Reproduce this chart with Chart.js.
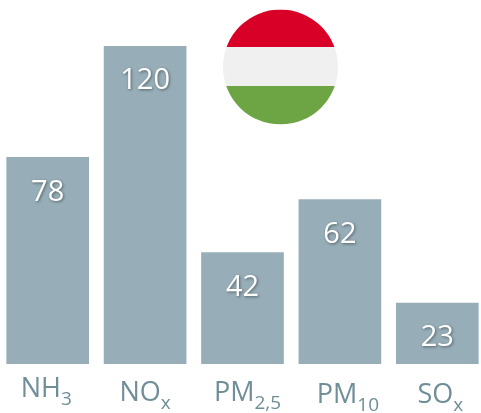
<!DOCTYPE html>
<html>
<head>
<meta charset="utf-8">
<style>
  html, body { margin: 0; padding: 0; background: #fff; overflow: hidden; }
  #wrap { position: absolute; left: -1px; top: 0; width: 487px; height: 413px; }
</style>
<script src="https://cdn.jsdelivr.net/npm/chart.js@4/dist/chart.umd.min.js"></script>
</head>
<body>
<div id="wrap"><canvas id="chart"></canvas></div>
<script>
const categories = ["NH3", "NOx", "PM2,5", "PM10", "SOx"];
const baseLabels = ["NH", "NO", "PM", "PM", "SO"];
const subLabels = ["3", "x", "2,5", "10", "x"];
const values = [78, 120, 42, 62, 23];
const flagColors = ["#d80027", "#f0f0f0", "#6da544"];

const barColor = "#97aeb8";
const labelColor = "#6f8e98";
const fontFamily = "'Open Sans', sans-serif";

// value labels inside the bars, with the soft shadow
const valueLabels = {
  id: "valueLabels",
  afterDatasetsDraw(chart) {
    const ctx = chart.ctx;
    const bars = chart.getDatasetMeta(0).data;
    ctx.save();
    ctx.font = "500 29px " + fontFamily;
    ctx.textAlign = "center";
    ctx.textBaseline = "middle";
    ctx.fillStyle = "#ffffff";
    ctx.shadowColor = "rgba(0,0,0,0.45)";
    ctx.shadowBlur = 3;
    ctx.shadowOffsetX = 1;
    ctx.shadowOffsetY = 1;
    bars.forEach((bar, i) => {
      ctx.fillText(String(values[i]), bar.x, bar.y + 35);
    });
    ctx.restore();
  },
};

// category labels with subscripts, they sit a bit unevenly in the original
const subscriptTicks = {
  id: "subscriptTicks",
  afterDraw(chart) {
    const ctx = chart.ctx;
    const xScale = chart.scales.x;
    const shiftX = [-1.5, 0, 5, 8, 3];
    const baselines = [397, 401, 401, 403, 403];
    ctx.save();
    ctx.fillStyle = labelColor;
    ctx.textBaseline = "alphabetic";
    ctx.textAlign = "left";
    categories.forEach((cat, i) => {
      ctx.font = "27px " + fontFamily;
      const w1 = ctx.measureText(baseLabels[i]).width;
      ctx.font = "500 19px " + fontFamily;
      const w2 = ctx.measureText(subLabels[i]).width;
      const left = xScale.getPixelForTick(i) + shiftX[i] - (w1 + w2) / 2;
      ctx.font = "27px " + fontFamily;
      ctx.fillText(baseLabels[i], left, baselines[i]);
      ctx.font = "500 19px " + fontFamily;
      ctx.fillText(subLabels[i], left + w1, baselines[i] + 8);
    });
    ctx.restore();
  },
};

// round flag in the top middle
const flag = {
  id: "flag",
  afterDraw(chart) {
    const ctx = chart.ctx;
    const cx = 281.5, cy = 67, r = 57.5;
    const stops = [cy - r, 47, 86, cy + r];
    ctx.save();
    ctx.beginPath();
    ctx.arc(cx, cy, r, 0, Math.PI * 2);
    ctx.clip();
    flagColors.forEach((c, i) => {
      ctx.fillStyle = c;
      ctx.fillRect(cx - r, stops[i], r * 2, stops[i + 1] - stops[i]);
    });
    ctx.restore();
  },
};

new Chart(document.getElementById("chart"), {
  type: "bar",
  data: {
    labels: categories,
    datasets: [
      {
        data: values,
        backgroundColor: barColor,
        barThickness: 82,
      },
    ],
  },
  options: {
    responsive: true,
    maintainAspectRatio: false,
    animation: false,
    layout: {
      padding: { top: 46, bottom: 49, left: 0, right: 0 },
    },
    plugins: {
      legend: { display: false },
      tooltip: { enabled: false },
    },
    scales: {
      x: { display: false },
      y: { display: false, min: 0, max: 120 },
    },
  },
  plugins: [valueLabels, subscriptTicks, flag],
});
</script>
</body>
</html>
